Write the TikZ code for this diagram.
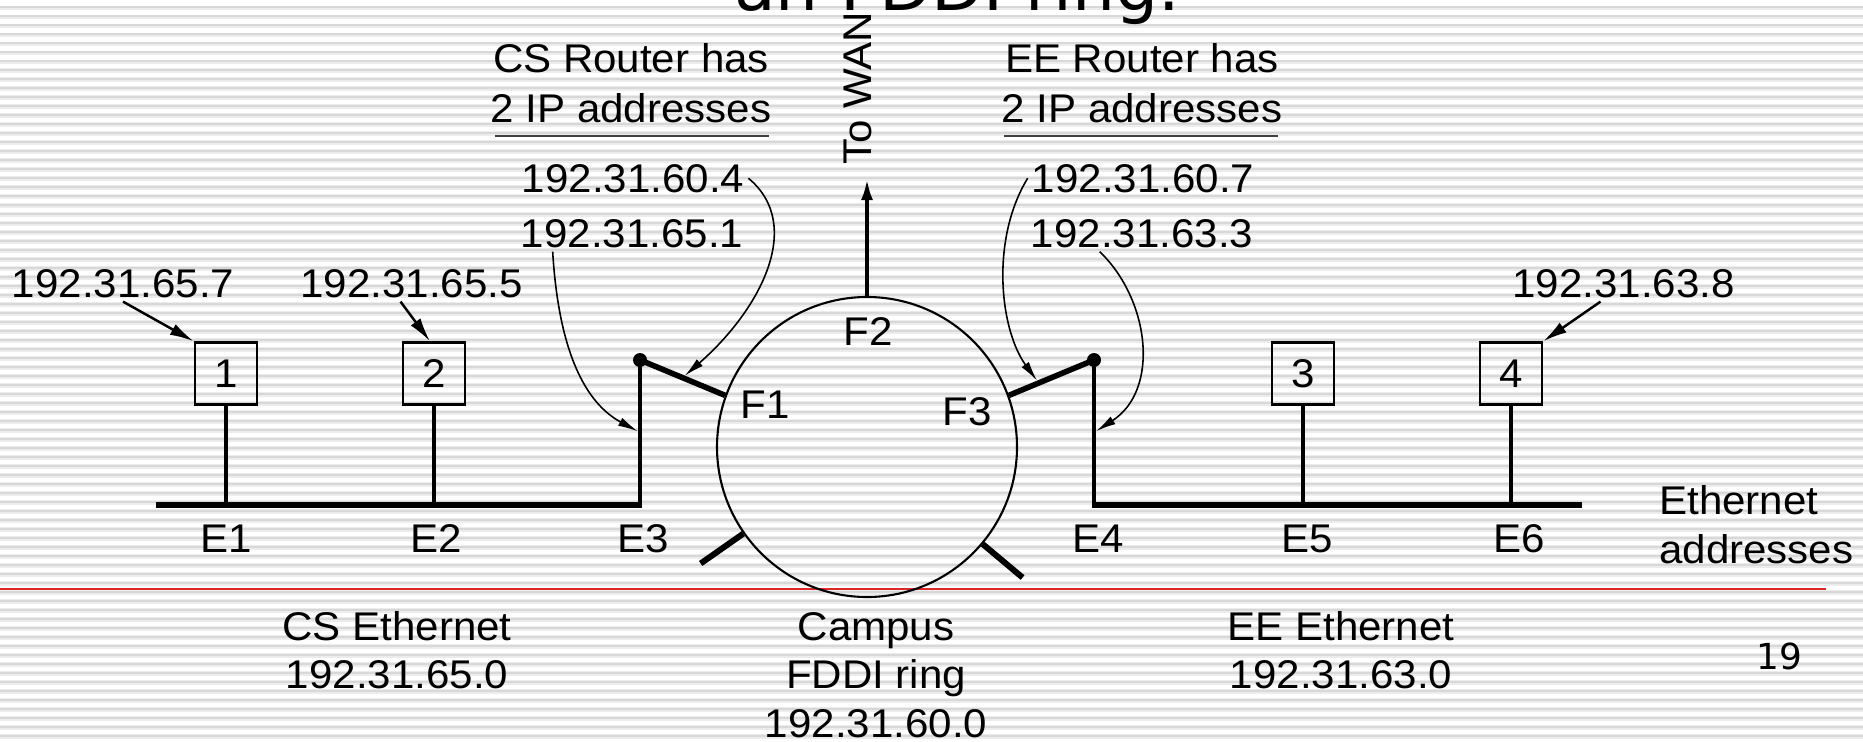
\documentclass[tikz,border=0pt]{standalone}
\usepackage{fontspec}
\setmainfont[FakeStretch=1.05]{Liberation Sans}
\newfontfamily\slidefont{DejaVu Sans}
\usetikzlibrary{arrows.meta, positioning, calc}
\definecolor{slidered}{RGB}{220, 40, 40}
\definecolor{stripegray}{RGB}{216, 216, 216}
\definecolor{stripelight}{RGB}{236, 236, 236}

\begin{document}
\begin{tikzpicture}[font=\fontsize{11.4}{13.7}\selectfont, >={Latex[length=0.2cm,width=0.09cm]},
      lbl/.style={inner sep=1pt, anchor=base},
      host/.style={draw, line width=0.7pt, minimum size=0.62cm, inner sep=0pt},
      dot/.style={circle, fill, inner sep=0pt, minimum size=0.14cm},
      bus/.style={line width=1.85pt},
      stem/.style={line width=1.15pt},
      riser/.style={line width=1.4pt},
      arm/.style={line width=1.6pt},
      tick/.style={line width=1.7pt},
      callout/.style={->, line width=0.45pt},
      pointer/.style={-{Latex[length=0.24cm,width=0.12cm]}, line width=0.7pt},
      underline/.style={line width=0.85pt, black!75}]
    \useasboundingbox (0,0) rectangle (18.63,7.41);
    \fill[white] (0,0) rectangle (18.63,7.41);
    \foreach \k in {0,...,81} {
      \fill[stripelight] (0,{7.355-0.09*\k}) rectangle ++(18.63,-0.045);
      \fill[stripegray] (0,{7.347-0.09*\k}) rectangle ++(18.63,-0.02);
    }
    \begin{scope}
      \clip (0,0) rectangle (18.63,7.41);
      \node[lbl, font=\slidefont\fontsize{19.3}{22}\selectfont] (title) at (9.57,7.31) {an FDDI ring.};
    \end{scope}
    \draw[slidered, line width=0.45pt] (0,1.52) -- (18.26,1.52);
    \node[lbl, font=\slidefont\fontsize{10.2}{12}\selectfont] (pagenum) at (17.79,0.72) {19};

    \node[draw, circle, line width=0.6pt, minimum size=3cm, inner sep=0pt] (ring) at (8.67,2.94) {};
    \draw[tick] (ring.215) -- ++(215:0.52);
    \draw[tick] (ring.320) -- ++(320:0.52);
    \node[lbl] (f1) at (7.65,3.23) {F1};
    \node[lbl] (f2) at (8.68,3.96) {F2};
    \node[lbl] (f3) at (9.67,3.16) {F3};
    \node[lbl, rotate=90, anchor=center, inner sep=3.6pt] (wan) at (8.575,6.525) {To WAN};
    \draw[->, line width=1.15pt, >={Latex[length=0.22cm,width=0.12cm]}] (ring.north) -- (ring.north |- wan.west);

    \coordinate (csend) at (1.56,2.36);
    \coordinate (e1) at (2.26,2.36);
    \coordinate (e2) at (4.34,2.36);
    \coordinate (e3) at (6.40,2.36);
    \coordinate (e4) at (10.94,2.36);
    \coordinate (e5) at (13.03,2.36);
    \coordinate (e6) at (15.11,2.36);
    \coordinate (eeend) at (15.82,2.36);
    \node[host] (h1) at (2.26,3.675) {1};
    \node[host] (h2) at (4.34,3.675) {2};
    \node[host] (h3) at (13.03,3.675) {3};
    \node[host] (h4) at (15.11,3.675) {4};
    \node[dot] (csdot) at (6.40,3.81) {};
    \node[dot] (eedot) at (10.94,3.81) {};
    \draw[bus] (csend) -- (e3);
    \draw[bus] (e4) -- (eeend);
    \draw[stem] (h1) -- (e1);
    \draw[stem] (h2) -- (e2);
    \draw[stem] (h3) -- (e5);
    \draw[stem] (h4) -- (e6);
    \draw[riser] ([yshift=-0.9pt]e3) -- (csdot.center);
    \draw[riser] ([yshift=-0.9pt]e4) -- (eedot.center);
    \draw[arm] (csdot.center) -- (ring.160);
    \draw[arm] (eedot.center) -- (ring.20);
    \coordinate (csarm) at ($(csdot)!0.5!(ring.160)$);
    \coordinate (eearm) at ($(ring.20)!0.35!(eedot)$);
    \coordinate (csriser) at ($(e3)!0.5!(csdot)$);
    \coordinate (eeriser) at ($(e4)!0.5!(eedot)$);

    \node[lbl] (le1) at (2.26,1.89) {E1};
    \node[lbl] (le2) at (4.36,1.89) {E2};
    \node[lbl] (le3) at (6.43,1.89) {E3};
    \node[lbl] (le4) at (10.98,1.89) {E4};
    \node[lbl] (le5) at (13.07,1.89) {E5};
    \node[lbl] (le6) at (15.19,1.89) {E6};
    \node[lbl, anchor=base west] (ethaddr) at (16.55,2.27) {Ethernet};
    \node[lbl, anchor=base west] (ethaddr2) at (16.55,1.78) {addresses};

    \node[lbl] (ip657) at (1.23,4.44) {192.31.65.7};
    \node[lbl] (ip655) at (4.115,4.44) {192.31.65.5};
    \node[lbl] (ip638) at (16.235,4.44) {192.31.63.8};
    \draw[pointer] (ip657.south) -- (h1.north west);
    \draw[pointer] ([xshift=-0.11cm]ip655.south) -- ([xshift=-0.04cm]h2.north);
    \draw[pointer] ([xshift=-0.23cm]ip638.south) -- (h4.north east);

    \node[lbl] (csrouter) at (6.31,6.69) {CS Router has};
    \node[lbl] (csaddr) at (6.31,6.19) {2 IP addresses};
    \draw[underline] (4.95,6.05) -- (7.69,6.05);
    \node[lbl] (ip604) at (6.33,5.49) {192.31.60.4};
    \node[lbl] (ip651) at (6.32,4.94) {192.31.65.1};
    \node[lbl] (eerouter) at (11.42,6.69) {EE Router has};
    \node[lbl] (eeaddr) at (11.42,6.19) {2 IP addresses};
    \draw[underline] (10.04,6.05) -- (12.78,6.05);
    \node[lbl] (ip607) at (11.43,5.49) {192.31.60.7};
    \node[lbl] (ip633) at (11.42,4.94) {192.31.63.3};
    \draw[callout, shorten >=0.8pt] (ip604.east) .. controls (8.05,5.16) and (7.60,4.31) .. (csarm);
    \draw[callout, shorten >=0.7pt] ([xshift=0.36cm]ip651.south west) .. controls (5.58,4.01) and (5.80,3.41) .. (csriser);
    \draw[callout, shorten >=0.8pt] (ip607.west) .. controls (9.90,5.01) and (10.00,4.11) .. (eearm);
    \draw[callout, shorten >=0.7pt] ([xshift=0.73cm]ip633.south west) .. controls (11.50,4.41) and (11.60,3.51) .. (eeriser);

    \node[lbl] (csnet) at (3.97,1.01) {CS Ethernet};
    \node[lbl] (csnetip) at (3.97,0.53) {192.31.65.0};
    \node[lbl] (ring1) at (8.76,1.01) {Campus};
    \node[lbl] (ring2) at (8.76,0.53) {FDDI ring};
    \node[lbl] (ring3) at (8.76,0.04) {192.31.60.0};
    \node[lbl] (eenet) at (13.41,1.01) {EE Ethernet};
    \node[lbl] (eenetip) at (13.41,0.53) {192.31.63.0};
  \end{tikzpicture}
\end{document}
